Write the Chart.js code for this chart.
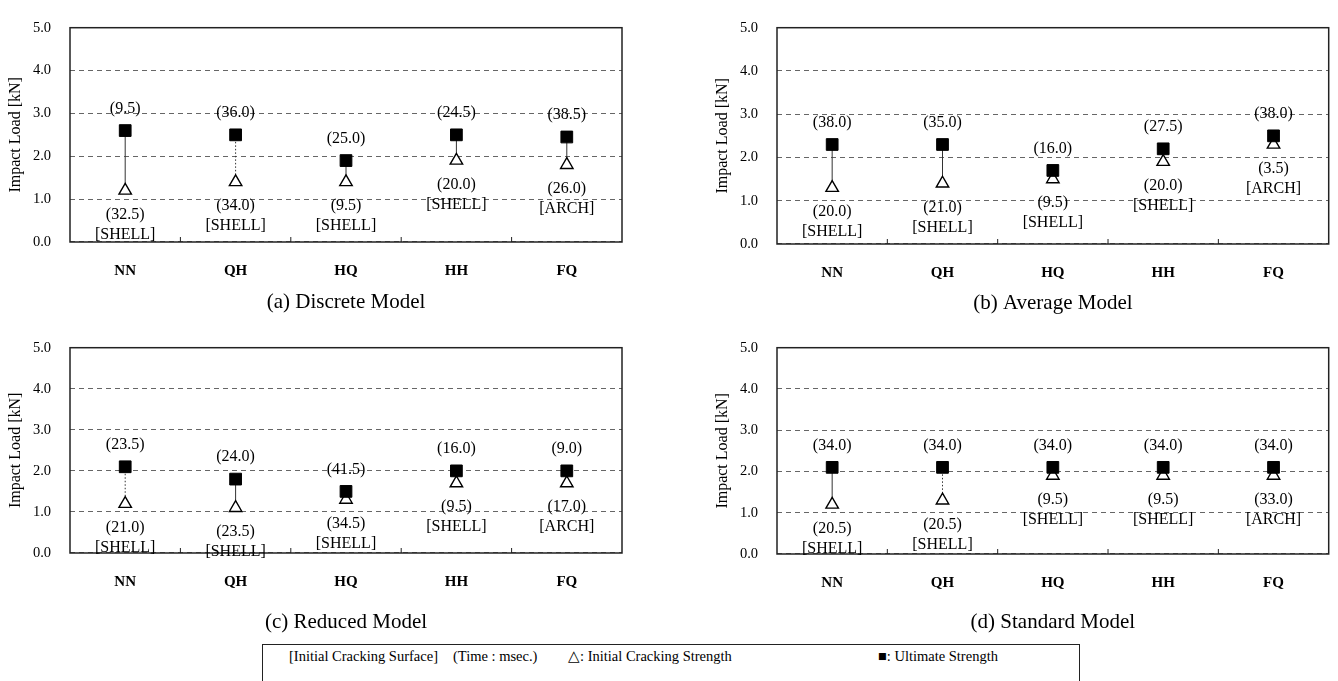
<!DOCTYPE html>
<html><head><meta charset="utf-8">
<script src="https://cdn.jsdelivr.net/npm/chart.js@4"></script>
<style>
body{margin:0;background:#fff;width:1338px;height:681px;overflow:hidden;position:relative;font-family:'Liberation Serif',serif;}
canvas{position:absolute;}
#legend{position:absolute;left:262px;top:644px;width:818px;height:50px;border:1.5px solid #222;box-sizing:border-box;font-size:14.5px;color:#000;}
#legend span{position:absolute;top:3px;white-space:nowrap;}
</style></head>
<body>
<canvas id="ca" width="660" height="320" style="left:0;top:0"></canvas>
<canvas id="cb" width="668" height="320" style="left:670px;top:0"></canvas>
<canvas id="cc" width="660" height="320" style="left:0;top:320px"></canvas>
<canvas id="cd" width="668" height="320" style="left:670px;top:320px"></canvas>
<div id="legend">
<span style="left:26px">[Initial Cracking Surface]</span>
<span style="left:190px">(Time : msec.)</span>
<span style="left:305px">△: Initial Cracking Strength</span>
<span style="left:615px">■: Ultimate Strength</span>
</div>
<script>
// ---- data ----
const categories = ['NN','QH','HQ','HH','FQ'];
const yTickValues = [0,1,2,3,4,5];

const discreteUltimate = [2.6, 2.5, 1.9, 2.5, 2.45];
const discreteInitial  = [1.2, 1.4, 1.4, 1.9, 1.8];
const discreteUltTime  = [9.5, 36.0, 25.0, 24.5, 38.5];
const discreteInitTime = [32.5, 34.0, 9.5, 20.0, 26.0];
const discreteSurface  = ['SHELL','SHELL','SHELL','SHELL','ARCH'];

const averageUltimate = [2.3, 2.3, 1.7, 2.2, 2.5];
const averageInitial  = [1.3, 1.4, 1.5, 1.9, 2.3];
const averageUltTime  = [38.0, 35.0, 16.0, 27.5, 38.0];
const averageInitTime = [20.0, 21.0, 9.5, 20.0, 3.5];
const averageSurface  = ['SHELL','SHELL','SHELL','SHELL','ARCH'];

const reducedUltimate = [2.1, 1.8, 1.5, 2.0, 2.0];
const reducedInitial  = [1.2, 1.1, 1.3, 1.7, 1.7];
const reducedUltTime  = [23.5, 24.0, 41.5, 16.0, 9.0];
const reducedInitTime = [21.0, 23.5, 34.5, 9.5, 17.0];
const reducedSurface  = ['SHELL','SHELL','SHELL','SHELL','ARCH'];

const standardUltimate = [2.1, 2.1, 2.1, 2.1, 2.1];
const standardInitial  = [1.2, 1.3, 1.9, 1.9, 1.9];
const standardUltTime  = [34.0, 34.0, 34.0, 34.0, 34.0];
const standardInitTime = [20.5, 20.5, 9.5, 9.5, 33.0];
const standardSurface  = ['SHELL','SHELL','SHELL','SHELL','ARCH'];

// ---- styles (connector line style per category) ----
const discreteLinks = ['solid','dotted','solid','solid','solid'];
const averageLinks  = ['solid','solid','solid','solid','solid'];
const reducedLinks  = ['dotted','solid','solid','solid','solid'];
const standardLinks = ['solid','dotted','solid','solid','solid'];

const FONT = "'Liberation Serif', 'Times New Roman', serif";
const Y_W = 70, X_H = 45, TITLE_SIZE = 21, TITLE_LH = 1.2;

const panelPlugin = {
  id: 'panelPlugin',
  beforeDatasetsDraw(chart, args, opts) {
    const ctx = chart.ctx;
    const ult = chart.getDatasetMeta(0).data, ini = chart.getDatasetMeta(1).data;
    ctx.save();
    ctx.strokeStyle = '#333'; ctx.lineWidth = 1;
    ult.forEach((p, i) => {
      ctx.setLineDash(opts.links[i] === 'dotted' ? [1.5, 2] : []);
      ctx.beginPath(); ctx.moveTo(p.x, p.y); ctx.lineTo(ini[i].x, ini[i].y); ctx.stroke();
    });
    ctx.restore();
  },
  afterDatasetsDraw(chart, args, opts) {
    const ctx = chart.ctx, a = chart.chartArea, xs = chart.scales.x;
    const ult = chart.getDatasetMeta(0).data, ini = chart.getDatasetMeta(1).data;
    ctx.save();
    ctx.strokeStyle = '#222'; ctx.lineWidth = 1.5; ctx.setLineDash([]);
    ctx.strokeRect(a.left, a.top, a.right - a.left, a.bottom - a.top);
    ctx.lineWidth = 1;
    for (let i = 1; i < categories.length; i++) {
      const x = (xs.getPixelForValue(i - 1) + xs.getPixelForValue(i)) / 2;
      ctx.beginPath(); ctx.moveTo(x, a.bottom); ctx.lineTo(x, a.bottom - 5); ctx.stroke();
    }
    ctx.fillStyle = '#000'; ctx.font = '16px ' + FONT;
    ctx.textAlign = 'center'; ctx.textBaseline = 'middle';
    ult.forEach((p, i) => {
      ctx.fillText('(' + opts.ultTime[i].toFixed(1) + ')', p.x, p.y - 22);
      const q = ini[i];
      ctx.fillText('(' + opts.initTime[i].toFixed(1) + ')', q.x, q.y + 24);
      ctx.fillText('[' + opts.surface[i] + ']', q.x, q.y + 44);
    });
    ctx.restore();
  }
};

function makePanel(id, W, H, area, titleText, titleY, ult, ini, ultTime, initTime, surface, links) {
  const titleBoxH = TITLE_SIZE * TITLE_LH;
  const padTop = titleY - area.b - X_H - titleBoxH / 2;
  const layoutBottom = H - (area.b + X_H + padTop + titleBoxH);
  new Chart(document.getElementById(id), {
    type: 'line',
    data: {
      labels: categories,
      datasets: [
        { label: 'Ultimate Strength', data: ult, showLine: false, pointStyle: 'rect', pointRadius: 8.3,
          backgroundColor: '#000', borderColor: '#000', borderWidth: 1 },
        { label: 'Initial Cracking Strength', data: ini, showLine: false, pointStyle: 'triangle', pointRadius: 7.2,
          backgroundColor: '#fff', borderColor: '#000', borderWidth: 1.4 }
      ]
    },
    options: {
      responsive: false, animation: false, devicePixelRatio: 1,
      layout: { padding: { left: area.l - Y_W, top: area.t, right: W - area.r, bottom: layoutBottom } },
      scales: {
        x: { type: 'category', offset: true,
             grid: { display: false }, border: { display: false },
             ticks: { color: '#000', font: { family: FONT, size: 15, weight: 'bold' }, padding: 12 },
             afterFit(s) { s.height = X_H; } },
        y: { min: 0, max: 5,
             afterBuildTicks(s) { s.ticks = yTickValues.map(v => ({ value: v })); },
             ticks: { color: '#000', font: { family: FONT, size: 14.5 }, padding: 19,
                      callback: v => Number(v).toFixed(1) },
             grid: { color: '#666', lineWidth: 1, drawTicks: false },
             border: { display: false, dash: [5, 4] },
             title: { display: true, text: 'Impact Load [kN]', color: '#000',
                      font: { family: FONT, size: 16 }, padding: { top: 6, bottom: 0 } },
             afterFit(s) { s.width = Y_W; } }
      },
      plugins: {
        legend: { display: false }, tooltip: { enabled: false },
        title: { display: true, position: 'bottom', fullSize: false, text: titleText, color: '#000',
                 font: { family: FONT, size: TITLE_SIZE, weight: 'normal', lineHeight: TITLE_LH },
                 padding: { top: padTop, bottom: 0 } },
        panelPlugin: { ultTime, initTime, surface, links }
      }
    },
    plugins: [panelPlugin]
  });
}

makePanel('ca', 660, 320, { l: 70, t: 15, r: 622, b: 242 }, '(a) Discrete Model', 302,
  discreteUltimate, discreteInitial, discreteUltTime, discreteInitTime, discreteSurface, discreteLinks);
makePanel('cb', 668, 320, { l: 107, t: 17, r: 660, b: 244 }, '(b) Average Model', 303,
  averageUltimate, averageInitial, averageUltTime, averageInitTime, averageSurface, averageLinks);
makePanel('cc', 660, 320, { l: 70, t: 8, r: 622, b: 233 }, '(c) Reduced Model', 302,
  reducedUltimate, reducedInitial, reducedUltTime, reducedInitTime, reducedSurface, reducedLinks);
makePanel('cd', 668, 320, { l: 107, t: 9, r: 660, b: 234 }, '(d) Standard Model', 302,
  standardUltimate, standardInitial, standardUltTime, standardInitTime, standardSurface, standardLinks);
</script>
</body></html>
